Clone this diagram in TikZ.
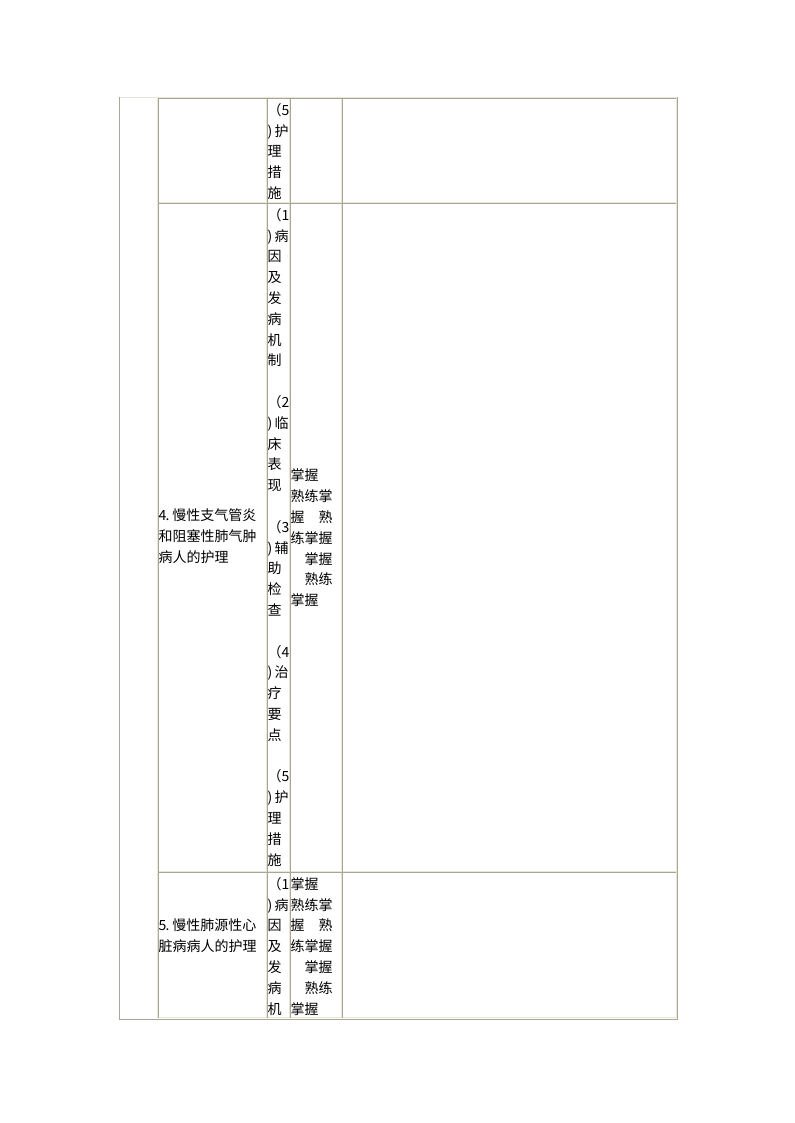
\documentclass[tikz,border=0pt]{standalone}
\usepackage{fontspec}
\newfontfamily\cjk{Noto Sans CJK SC}
\definecolor{tgray}{RGB}{168,166,150}
\definecolor{tlight}{RGB}{232,230,212}
\newcommand\hw[1]{\makebox[0.5em][l]{#1}}
\begin{document}
\begin{tikzpicture}[x=0.75pt,y=-0.75pt,
  cell text/.style={anchor=base west,inner sep=0pt,outer sep=0pt,font=\cjk\fontsize{10.5}{12}\selectfont},
  gline/.style={draw=tgray,line width=0.75pt},
  lline/.style={draw=tlight,line width=0.75pt}]
\useasboundingbox (0,0) rectangle (794,1123);
% ---- borders: light (cell bottom/right, outer top)
\draw[lline] (119,97.5) -- (677,97.5);
\foreach \b in {157,266,289,341}{\draw[lline] (\b+0.5,98) -- (\b+0.5,1018);}
\foreach \b in {202,871}{\draw[lline] (158,\b+0.5) -- (676,\b+0.5);}
\draw[lline] (158,1017.5) -- (676,1017.5);
\draw[lline] (676,98) -- (676,1018);
% ---- borders: gray (cell top/left, outer bottom/right/left)
\draw[gline] (158,98.5) -- (676,98.5);
\foreach \b in {158,267,290,342}{\draw[gline] (\b+0.5,98) -- (\b+0.5,1018);}
\foreach \b in {203,872}{\draw[gline] (158,\b+0.5) -- (676,\b+0.5);}
\draw[gline] (119.5,97) -- (119.5,1019.5) -- (677.5,1019.5) -- (677.5,97);
% ---- row 1, column 3
\foreach \i/\t in {0/（\hw{5},1/\hw{)}护,2/理,3/措,4/施}
  \node[cell text,name=ra\i] at (267.5,{110+20.8*\i+5.3}) {\t};
% ---- row 2, column 2
\foreach \i/\t in {0/\hw{4}\hw{.}慢性支气管炎,1/和阻塞性肺气肿,2/病人的护理}
  \node[cell text,name=rbt\i] at (158.5,{515.5+20.8*\i+5.3}) {\t};
% ---- row 2, column 3
\foreach \i/\t in {0/（\hw{1},1/\hw{)}病,2/因,3/及,4/发,5/病,6/机,7/制,
  9/（\hw{2},10/\hw{)}临,11/床,12/表,13/现,
  15/（\hw{3},16/\hw{)}辅,17/助,18/检,19/查,
  21/（\hw{4},22/\hw{)}治,23/疗,24/要,25/点,
  27/（\hw{5},28/\hw{)}护,29/理,30/措,31/施}
  \node[cell text,name=rb\i] at (267.5,{215+20.8*\i+5.3}) {\t};
% ---- row 2, column 4
\foreach \i/\t in {0/掌握,1/熟练掌,2/握\hspace*{1em}熟,3/练掌握,4/\hspace*{1em}掌握,5/\hspace*{1em}熟练,6/掌握}
  \node[cell text,name=rbm\i] at (290.5,{475.5+20.8*\i+5.3}) {\t};
% ---- row 3, column 2
\foreach \i/\t in {0/\hw{5}\hw{.}慢性肺源性心,1/脏病病人的护理}
  \node[cell text,name=rct\i] at (158.5,{925+20.8*\i+5.3}) {\t};
% ---- row 3, column 3
\foreach \i/\t in {0/（\hw{1},1/\hw{)}病,2/因,3/及,4/发,5/病,6/机}
  \node[cell text,name=rc\i] at (267.5,{884+20.8*\i+5.3}) {\t};
% ---- row 3, column 4
\foreach \i/\t in {0/掌握,1/熟练掌,2/握\hspace*{1em}熟,3/练掌握,4/\hspace*{1em}掌握,5/\hspace*{1em}熟练,6/掌握}
  \node[cell text,name=rcm\i] at (290.5,{884+20.8*\i+5.3}) {\t};
\end{tikzpicture}
\end{document}
